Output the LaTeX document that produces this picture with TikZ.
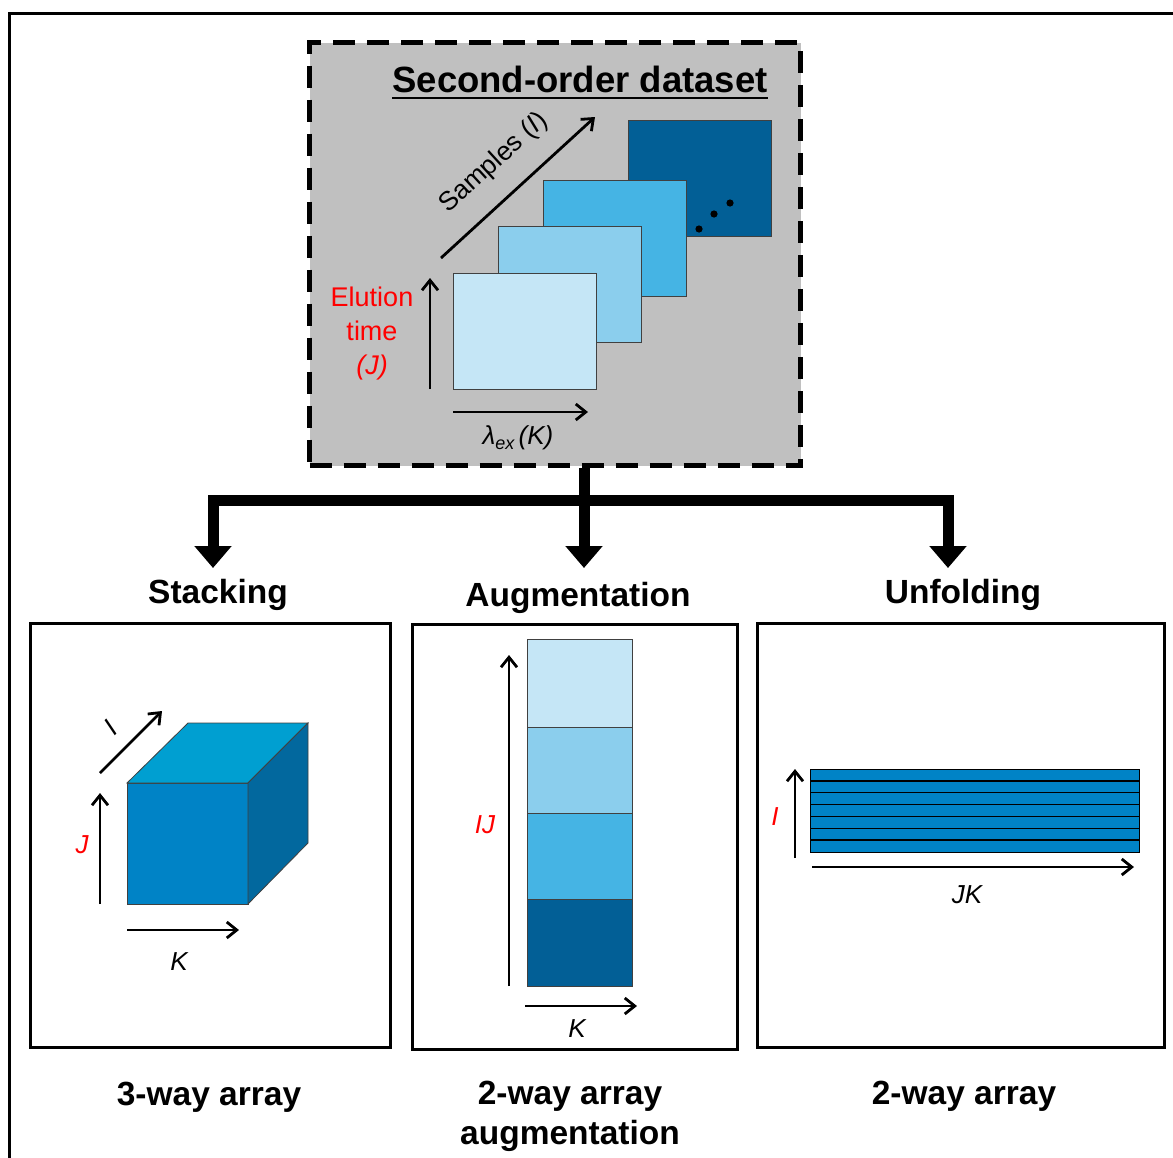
\documentclass[tikz,border=0pt]{standalone}
\usepackage{fontspec}
\setmainfont{Liberation Sans}
\usetikzlibrary{arrows.meta}
\definecolor{dsgray}{HTML}{C0C0C0}
\definecolor{sa}{HTML}{C5E6F6}
\definecolor{sb}{HTML}{8BCEED}
\definecolor{sc}{HTML}{45B4E4}
\definecolor{sd}{HTML}{025F96}
\definecolor{cfront}{HTML}{0083C6}
\definecolor{ctop}{HTML}{009FD1}
\definecolor{cright}{HTML}{02689E}
\definecolor{edgegray}{HTML}{404040}
\definecolor{lbred}{HTML}{FF0000}
\tikzset{
  dsbox/.style={draw=black, fill=dsgray, line width=5pt, dash pattern=on 22pt off 12pt},
  slicebox/.style={draw=edgegray, line width=0.9pt, inner sep=0pt, anchor=north west},
  panelbox/.style={draw=black, line width=3pt, inner sep=0pt, anchor=north west},
  axis/.style={line width=2.8pt, -{Straight Barb[length=10pt,width=16pt,line width=2.8pt]}},
  bus/.style={line width=11pt, line join=miter, line cap=butt},
  bushead/.style={-{Triangle[length=22pt,width=36pt]}},
  heading/.style={font=\bfseries\fontsize{33.5}{40}\selectfont, inner sep=0pt},
  axlabel/.style={font=\itshape\fontsize{26}{30}\selectfont, inner sep=0pt},
  redlabel/.style={axlabel, text=lbred},
}
\begin{document}
\begin{tikzpicture}[x=1pt,y=-1pt]
\useasboundingbox (0,0) rectangle (1173,1157);
% outer frame (only top and left visible)
\draw[line width=3pt] (9,1165) -- (9,13) -- (1180,13);

% dataset box
\node[dsbox, minimum width=491pt, minimum height=423pt, anchor=north west, inner sep=0pt] (dataset) at (307,40) {};
\node[font=\bfseries\fontsize{36.5}{40}\selectfont, inner sep=0pt, anchor=base] (title) at (580,92) {Second-order dataset};
\draw[line width=2.5pt] ([yshift=-6pt]title.base west) -- ([yshift=-6pt]title.base east);

% slices
\node[slicebox, fill=sd, minimum width=143pt, minimum height=116pt] (sl4) at (628,120) {};
\node[slicebox, fill=sc, minimum width=143pt, minimum height=116pt] (sl3) at (543,180) {};
\node[slicebox, fill=sb, minimum width=143pt, minimum height=116pt] (sl2) at (498,226) {};
\node[slicebox, fill=sa, minimum width=143pt, minimum height=116pt] (sl1) at (453,273) {};
\fill (699,229) circle (3.6pt);
\fill (714,214) circle (3.6pt);
\fill (730,203) circle (3.6pt);

% dataset axes
\coordinate (smpA) at (441,258);
\coordinate (smpB) at (595,117);
\draw[axis] (smpA) -- (smpB);
\node[font=\fontsize{26.5}{30}\selectfont, rotate=42.5, inner sep=0pt] (smplab) at (494,163) {Samples (\textit{I})};
\coordinate (eluA) at (430,389);
\coordinate (eluB) at (430,278);
\draw[axis] (eluA) -- (eluB);
\node[font=\fontsize{27}{34}\selectfont, text=lbred, align=center, inner sep=0pt] (elulab) at (372,334) {Elution\\time\\\textit{(J)}};
\coordinate (lamA) at (453,412);
\coordinate (lamB) at (588,412);
\draw[axis] (lamA) -- (lamB);
\node[axlabel] (lamlab) at (518,438) {λ\raisebox{-0.35ex}{\fontsize{18}{18}\selectfont ex}\,(K)};

% connectors
\coordinate (split) at (584,500);
\coordinate (stk) at (213,568);
\coordinate (aug) at (584,568);
\coordinate (unf) at (948,568);
\draw[bus, bushead] (aug |- dataset.south) -- (aug);
\draw[bus, bushead] (split) -| (stk);
\draw[bus, bushead] (split) -| (unf);

% headings
\node[heading] (hstack) at (218,595) {Stacking};
\node[heading] (haug) at (578,598) {Augmentation};
\node[heading] (hunf) at (963,595) {Unfolding};

% panels
\node[panelbox, minimum width=360pt, minimum height=424pt] (p1) at (29,622) {};
\node[panelbox, minimum width=325pt, minimum height=425pt] (p2) at (411,623) {};
\node[panelbox, minimum width=407pt, minimum height=424pt] (p3) at (756,622) {};

% cube
\filldraw[fill=cfront, draw=edgegray, line width=0.8pt] (127,783) rectangle (248,904);
\filldraw[fill=ctop, draw=edgegray, line width=0.8pt] (127,783) -- (188,723) -- (308,723) -- (248,783) -- cycle;
\filldraw[fill=cright, draw=edgegray, line width=0.8pt] (248,783) -- (308,723) -- (308,843) -- (248,904) -- cycle;
\coordinate (cIa) at (100,773);
\coordinate (cIb) at (162,711);
\draw[axis] (cIa) -- (cIb);
\node[axlabel, rotate=45] (cIlab) at (111,728) {I};
\coordinate (cJa) at (100,904);
\coordinate (cJb) at (100,793);
\draw[axis] (cJa) -- (cJb);
\node[redlabel] (cJlab) at (82,845) {J};
\coordinate (cKa) at (127,930);
\coordinate (cKb) at (239,930);
\draw[axis] (cKa) -- (cKb);
\node[axlabel] (cKlab) at (179,962) {K};

% augmentation column
\node[slicebox, fill=sa, minimum width=105pt, minimum height=88pt] (a1) at (527,639) {};
\node[slicebox, fill=sb, minimum width=105pt, minimum height=86pt] (a2) at (527,727) {};
\node[slicebox, fill=sc, minimum width=105pt, minimum height=86pt] (a3) at (527,813) {};
\node[slicebox, fill=sd, minimum width=105pt, minimum height=87pt] (a4) at (527,899) {};
\coordinate (aIJa) at (509,986);
\coordinate (aIJb) at (509,655);
\draw[axis] (aIJa) -- (aIJb);
\node[redlabel] (aIJlab) at (485,825) {IJ};
\coordinate (aKa) at (525,1006);
\coordinate (aKb) at (637,1006);
\draw[axis] (aKa) -- (aKb);
\node[axlabel] (aKlab) at (577,1029) {K};

% unfolding
\node[slicebox, fill=cfront, draw=black, line width=1pt, minimum width=329pt, minimum height=83pt] (ufold) at (810,769) {};
\foreach \yy in {780.9,792.7,804.6,816.4,828.3,840.1}
  \draw[line width=1.3pt, black] (810,\yy) -- (1139,\yy);
\coordinate (uIa) at (795,858);
\coordinate (uIb) at (795,769);
\draw[axis] (uIa) -- (uIb);
\node[redlabel] (uIlab) at (775,817) {I};
\coordinate (uJKa) at (812,867);
\coordinate (uJKb) at (1134,867);
\draw[axis] (uJKa) -- (uJKb);
\node[axlabel] (uJKlab) at (967,895) {JK};

% bottom labels
\node[heading] (b1) at (209,1097) {3-way array};
\node[heading, align=center, font=\bfseries\fontsize{33.5}{40}\selectfont] (b2) at (570,1116) {2-way array\\augmentation};
\node[heading] (b3) at (964,1096) {2-way array};
\end{tikzpicture}
\end{document}
